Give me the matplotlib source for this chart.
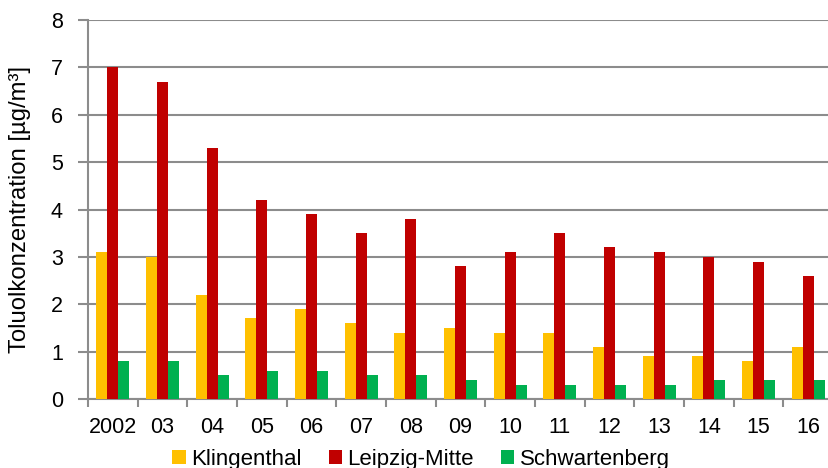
import matplotlib
matplotlib.use("Agg")
import matplotlib.pyplot as plt
import numpy as np

plt.rcParams['font.family'] = ['Liberation Sans', 'DejaVu Sans']

years = ["2002", "03", "04", "05", "06", "07", "08", "09", "10", "11", "12", "13", "14", "15", "16"]
klingenthal = [3.1, 3.0, 2.2, 1.7, 1.9, 1.6, 1.4, 1.5, 1.4, 1.4, 1.1, 0.9, 0.9, 0.8, 1.1]
leipzig_mitte = [7.0, 6.7, 5.3, 4.2, 3.9, 3.5, 3.8, 2.8, 3.1, 3.5, 3.2, 3.1, 3.0, 2.9, 2.6]
schwartenberg = [0.8, 0.8, 0.5, 0.6, 0.6, 0.5, 0.5, 0.4, 0.3, 0.3, 0.3, 0.3, 0.4, 0.4, 0.4]

series = [
    ("Klingenthal", klingenthal, "#FFC000"),
    ("Leipzig-Mitte", leipzig_mitte, "#C00000"),
    ("Schwartenberg", schwartenberg, "#00B050"),
]

fig = plt.figure(figsize=(8.29, 4.68), dpi=100)
ax = fig.add_axes([88 / 829, 1 - 399 / 468, (833 - 88) / 829, (399 - 20) / 468])

x = np.arange(len(years))
w = 0.2215
for i, (name, vals, col) in enumerate(series):
    ax.bar(x + (i - 1) * w, vals, width=w, color=col, label=name, zorder=3)

ax.set_xlim(-0.5, len(years) - 0.5)
ax.set_ylim(0, 8)
ax.set_yticks(range(0, 9))
ax.yaxis.grid(True, color="#8c8c8c", linewidth=1.5, zorder=0)

ax.set_xticks(x)
ax.set_xticklabels(years)
ax.set_xticks(np.arange(-0.5, len(years)), minor=True)
ax.tick_params(axis='x', which='major', length=0, labelsize=15.5, pad=13)
ax.tick_params(axis='x', which='minor', length=6, width=1.5, color="#8c8c8c")
ax.tick_params(axis='y', length=7, width=1.5, color="#8c8c8c", labelsize=15.5, pad=11)

for s in ["top", "right"]:
    ax.spines[s].set_visible(False)
for s in ["left", "bottom"]:
    ax.spines[s].set_color("#8c8c8c")
    ax.spines[s].set_linewidth(1.5)

ax.set_ylabel("Toluolkonzentration [µg/m³]", fontsize=17.2, va="center")
ax.yaxis.set_label_coords((20 - 88) / 745, 0.5)

fig.legend(loc="center", bbox_to_anchor=(421 / 829, 1 - 459 / 468), ncol=3,
           frameon=False, fontsize=16, handlelength=0.6, handleheight=0.6,
           handletextpad=0.25, columnspacing=1.2)

fig.savefig("out.png", dpi=100)
